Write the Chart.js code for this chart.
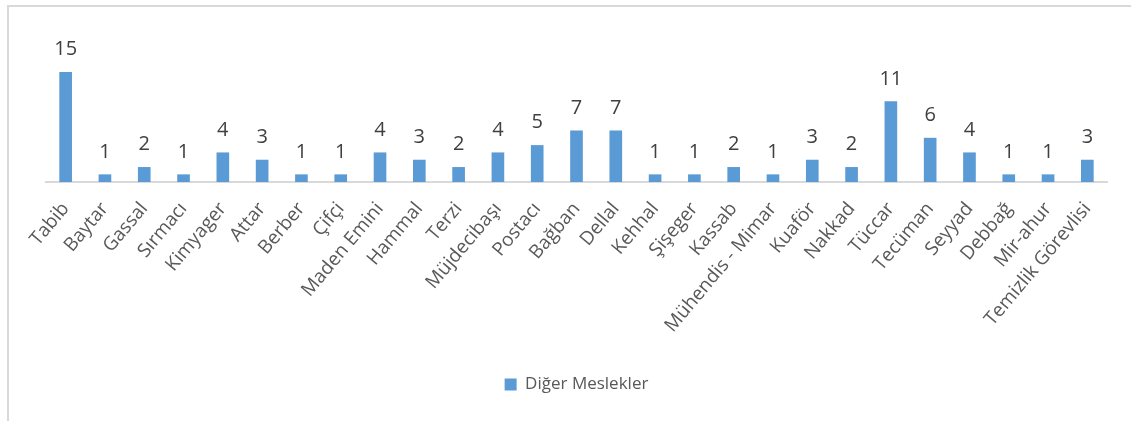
<!DOCTYPE html>
<html>
<head>
<meta charset="utf-8">
<script src="https://cdn.jsdelivr.net/npm/chart.js@4"></script>
<style>
    body { margin: 0; background: #fff; }
    #wrap { position: relative; width: 1131px; height: 421px; }
    #frame {
        position: absolute; left: 7px; top: 5px; right: 0; bottom: 0;
        border-top: 2px solid #d9d9d9;
        border-left: 2px solid #d9d9d9;
    }
    #chart { position: absolute; left: 0; top: 0; }
</style>
</head>
<body>
<div id="wrap">
    <div id="frame"></div>
    <canvas id="chart" width="1131" height="421"></canvas>
</div>
<script>
// Occupations and their counts
const meslekler = ['Tabib', 'Baytar', 'Gassal', 'Sırmacı', 'Kimyager', 'Attar', 'Berber', 'Çifçi',
    'Maden Emini', 'Hammal', 'Terzi', 'Müjdecibaşı', 'Postacı', 'Bağban', 'Dellal', 'Kehhal',
    'Şişeger', 'Kassab', 'Mühendis - Mimar', 'Kuaför', 'Nakkad', 'Tüccar', 'Tecüman', 'Seyyad',
    'Debbağ', 'Mir-ahur', 'Temizlik Görevlisi'];
const sayilar = [15, 1, 2, 1, 4, 3, 1, 1, 4, 3, 2, 4, 5, 7, 7, 1, 1, 2, 1, 3, 2, 11, 6, 4, 1, 1, 3];
const seriAdi = 'Diğer Meslekler';

const FONT = '"Open Sans", sans-serif';

// Draw the value above each bar
const degerEtiketleri = {
    id: 'degerEtiketleri',
    afterDatasetsDraw(chart) {
        const ctx = chart.ctx;
        const meta = chart.getDatasetMeta(0);
        ctx.save();
        ctx.font = '20px ' + FONT;
        ctx.fillStyle = '#404040';
        ctx.textAlign = 'center';
        ctx.textBaseline = 'alphabetic';
        meta.data.forEach((bar, i) => {
            ctx.fillText(String(sayilar[i]), bar.x, bar.y - 17);
        });
        ctx.restore();
    }
};

const ctx = document.getElementById('chart').getContext('2d');
new Chart(ctx, {
    type: 'bar',
    data: {
        labels: meslekler,
        datasets: [{
            label: seriAdi,
            data: sayilar,
            backgroundColor: '#5b9bd5',
            barThickness: 12
        }]
    },
    options: {
        responsive: false,
        animation: false,
        layout: { padding: { left: 46, right: 24, top: 65, bottom: 18 } },
        scales: {
            x: {
                grid: { display: false, drawTicks: false },
                border: { display: true, color: '#d9d9d9', width: 2 },
                ticks: {
                    color: '#595959',
                    font: { family: FONT, size: 19 },
                    minRotation: 50,
                    maxRotation: 50,
                    autoSkip: false,
                    padding: 16
                },
                afterFit(scale) {
                    scale.paddingLeft = 0;
                    scale.paddingRight = 0;
                    scale.height = 184;
                }
            },
            y: {
                display: false,
                min: 0,
                max: 16
            }
        },
        plugins: {
            legend: {
                position: 'bottom',
                fullSize: false,
                labels: {
                    color: '#595959',
                    font: { family: FONT, size: 17 },
                    boxWidth: 12,
                    boxHeight: 12,
                    padding: 10
                }
            },
            tooltip: { enabled: false }
        }
    },
    plugins: [degerEtiketleri]
});
</script>
</body>
</html>
